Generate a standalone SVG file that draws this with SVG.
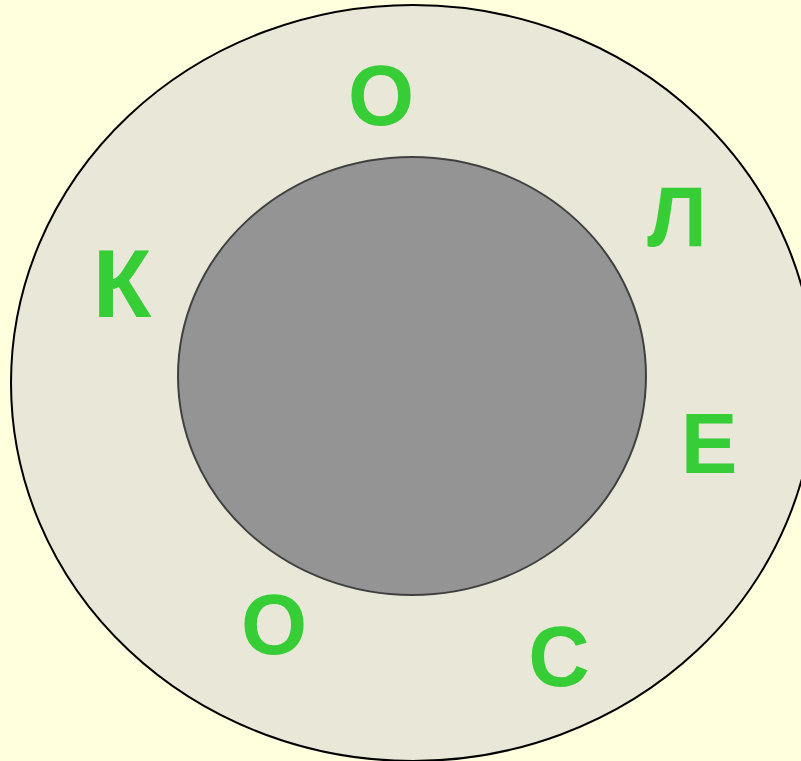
<svg xmlns="http://www.w3.org/2000/svg" width="801" height="761" viewBox="0 0 801 761">
<style>
.l{font-family:"Liberation Sans",Arial,sans-serif;font-weight:bold;fill:#36cd36;text-anchor:middle}
</style>
<rect width="801" height="761" fill="#ffffde"/>
<g id="outer"><ellipse cx="413" cy="383" rx="402" ry="378" fill="#e9e8d8" stroke="#000" stroke-width="2"/></g>
<g id="inner"><ellipse cx="412" cy="376" rx="234" ry="219" fill="#949494" stroke="#404040" stroke-width="2"/></g>
<g id="letters">
<text class="l" x="381" y="125" font-size="85">О</text>
<text class="l" x="677" y="246" font-size="85">Л</text>
<text class="l" x="122" y="317" font-size="96">К</text>
<text class="l" x="709" y="473" font-size="85">Е</text>
<text class="l" x="274" y="654" font-size="85">О</text>
<text class="l" x="559" y="686" font-size="85">С</text>
</g>
</svg>
